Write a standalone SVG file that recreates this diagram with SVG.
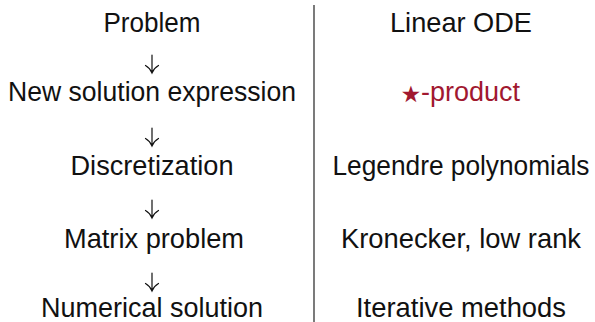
<svg xmlns="http://www.w3.org/2000/svg" width="595" height="322" viewBox="0 0 595 322">
<style>
.t{font-family:"Liberation Sans","DejaVu Sans",sans-serif;font-size:27.5px;fill:#111;text-anchor:middle}
.red{fill:#A11830}
.arr{fill:none;stroke:#111;stroke-width:1.2;stroke-linecap:round}
</style>
<rect width="595" height="322" fill="#fff"/>
<g id="divider"><line x1="314" y1="5" x2="314" y2="322" stroke="#333" stroke-width="1.3"/></g>
<g id="left">
<g id="n-problem"><text class="t" x="152" y="32" textLength="97" lengthAdjust="spacingAndGlyphs">Problem</text></g>
<g id="n-newsol"><text class="t" x="152" y="101" textLength="288" lengthAdjust="spacingAndGlyphs">New solution expression</text></g>
<g id="n-discr"><text class="t" x="152" y="175" textLength="163" lengthAdjust="spacingAndGlyphs">Discretization</text></g>
<g id="n-matrix"><text class="t" x="154" y="248" textLength="180" lengthAdjust="spacingAndGlyphs">Matrix problem</text></g>
<g id="n-numsol"><text class="t" x="152" y="317" textLength="222" lengthAdjust="spacingAndGlyphs">Numerical solution</text></g>
</g>
<g id="right">
<g id="r-ode"><text class="t" x="461" y="32" textLength="142" lengthAdjust="spacingAndGlyphs">Linear ODE</text></g>
<g id="r-star"><text class="red" x="411" y="109" font-family="DejaVu Sans, sans-serif" font-size="46" text-anchor="middle">⋆</text><text class="t red" x="421" y="101" style="text-anchor:start" textLength="99" lengthAdjust="spacingAndGlyphs">-product</text></g>
<g id="r-leg"><text class="t" x="461" y="175" textLength="257" lengthAdjust="spacingAndGlyphs">Legendre polynomials</text></g>
<g id="r-kron"><text class="t" x="461" y="248" textLength="240" lengthAdjust="spacingAndGlyphs">Kronecker, low rank</text></g>
<g id="r-iter"><text class="t" x="461" y="317" textLength="210" lengthAdjust="spacingAndGlyphs">Iterative methods</text></g>
</g>
<g id="connectors">
<path class="arr" d="M152 55V73M145.5 65.5Q150 68 152 73Q154 68 158.5 65.5"/>
<path class="arr" d="M152 128V146M145.5 138.5Q150 141 152 146Q154 141 158.5 138.5"/>
<path class="arr" d="M152 200V218M145.5 210.5Q150 213 152 218Q154 213 158.5 210.5"/>
<path class="arr" d="M152 273V291M145.5 283.5Q150 286 152 291Q154 286 158.5 283.5"/>
</g>
</svg>
